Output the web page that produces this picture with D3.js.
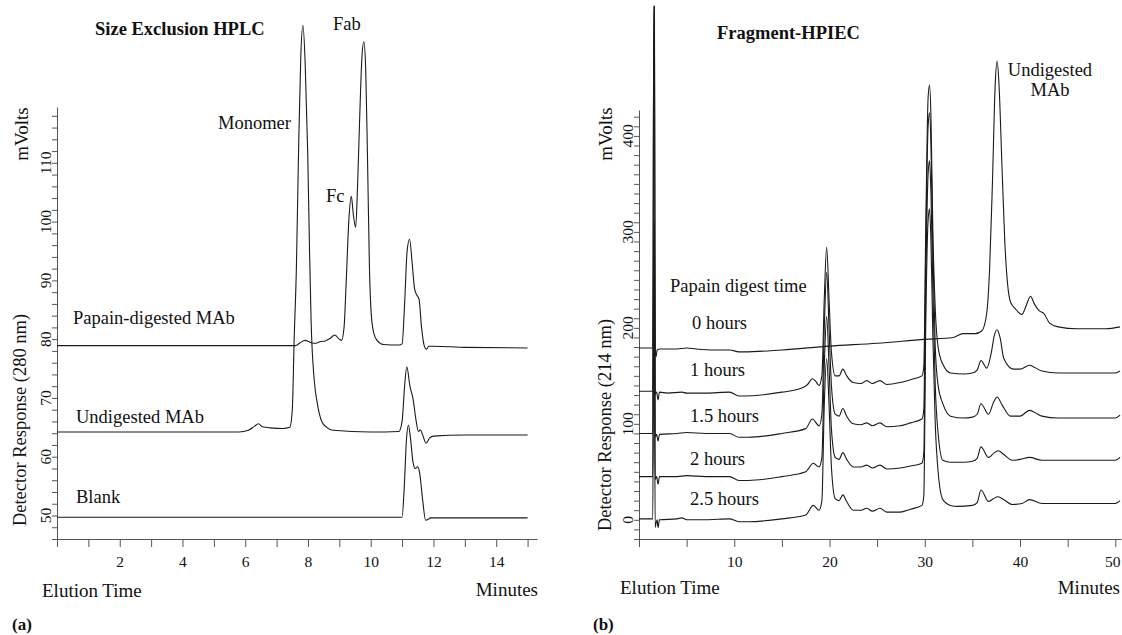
<!DOCTYPE html>
<html>
<head>
<meta charset="utf-8">
<script src="https://cdn.jsdelivr.net/npm/d3@7"></script>
<style>
  body { margin: 0; background: #fff; }
  svg text { font-family: 'Liberation Serif', 'Times New Roman', serif; fill: #111; }
</style>
</head>
<body>
<svg id="chart" width="1122" height="635"></svg>
<script>
/* Panel (a) - size exclusion HPLC, points are [minutes, mVolts] */
const secPapain = [[0,78.9],[6,78.9],[7.6,78.9],[7.75,79.4],[7.9,79.8],[8.1,79.4],[8.25,79.3],[8.4,79.6],[8.55,79.7],[8.7,80.1],[8.85,80.7],[9.0,80.0],[9.07,79.8],[9.15,82],[9.22,90],[9.3,100],[9.38,104.3],[9.45,101],[9.52,99],[9.58,106],[9.65,118],[9.72,128],[9.78,130.6],[9.84,126],[9.9,110],[9.96,92],[10.02,84],[10.1,81],[10.2,79.8],[10.4,79.1],[10.9,79],[11.0,79.2],[11.08,86],[11.16,95],[11.24,97],[11.32,93],[11.4,88.5],[11.47,87.5],[11.54,86.8],[11.62,82],[11.7,79],[11.78,78.3],[11.85,78.8],[12,78.8],[13,78.6],[15,78.5]]
const secUndigested = [[0,64.2],[5.8,64.2],[6.1,64.5],[6.3,65.2],[6.42,65.6],[6.55,65.1],[6.8,64.9],[7.2,64.8],[7.42,65],[7.5,68],[7.56,80],[7.63,92],[7.7,112],[7.77,128],[7.84,133.4],[7.91,127],[7.99,112],[8.05,95],[8.1,83],[8.2,73],[8.3,69],[8.44,66],[8.6,65],[8.8,64.5],[10,64.2],[10.9,64.3],[11.0,66],[11.08,72],[11.15,75.3],[11.25,72],[11.35,69.8],[11.45,66],[11.52,64.3],[11.58,64.6],[11.65,63.8],[11.76,62.3],[11.88,63.2],[12,63.5],[13,63.7],[15,63.7]]
const secBlank = [[0,49.7],[11.0,49.7],[11.07,55],[11.14,63],[11.2,65.4],[11.27,63],[11.35,59],[11.42,58],[11.5,58.3],[11.56,57.2],[11.65,52.9],[11.75,49.2],[11.82,49.3],[11.9,49.6],[15,49.6]]
const secNames = ['Papain-digested MAb', 'Undigested MAb', 'Blank']
const secXTicks = [0,1,2,3,4,5,6,7,8,9,10,11,12,13,14,15]
const secXLabels = [2,4,6,8,10,12,14]
const secYTicks = d3.range(46, 119, 2)
const secYLabels = [50,60,70,80,90,100,110]

/* Panel (b) - fragment HPIEC, one trace per digest time */
const iec0h = [[0,179],[1.45,179],[1.55,535],[1.62,535],[1.7,176],[1.8,170],[1.9,177],[2.2,178],[4,178],[5,179],[6,178],[8,177],[9.5,177],[10.5,175],[11,175],[15,177],[20,181],[25,184],[30,188],[33,190],[34,194],[35.3,194],[36,197],[36.5,215],[36.8,260],[37.1,350],[37.4,455],[37.6,478],[37.8,452],[38.1,370],[38.4,290],[38.7,245],[39,227],[39.5,220],[40.2,214],[40.6,222],[41.1,233],[41.5,225],[42,218],[42.5,215],[43.1,205],[44,201],[46,199],[49,199],[50.5,201]]
const iec1h = [[0,134],[1.45,134],[1.55,535],[1.62,535],[1.7,131],[1.85,133],[2.0,125],[2.15,133],[3,132],[4.5,133],[5,132],[7,132],[9.5,133],[10.5,129],[11,129],[15,133],[17,137],[17.7,141],[18.2,147],[18.5,145],[18.9,140],[19.2,150],[19.45,230],[19.7,284],[19.95,230],[20.2,175],[20.6,150],[21.0,150],[21.4,157],[21.8,150],[22.5,143],[23.3,142],[23.9,145],[24.5,142],[25.3,145],[26,141],[27.4,143],[28.5,146],[29.7,150],[29.9,160],[30.1,300],[30.35,440],[30.5,453],[30.65,420],[30.85,300],[31.1,220],[31.4,180],[31.9,162],[32.7,153],[34.1,152],[35,153],[35.5,156],[35.9,166],[36.5,158],[37.0,175],[37.3,192],[37.6,198],[37.9,190],[38.3,168],[39.3,157],[40,157],[41,161],[41.5,159],[42.3,155],[44,153],[50,153],[50.5,155]]
const iec15h = [[0,90],[1.45,90],[1.55,310],[1.62,310],[1.7,86],[1.85,89],[2.0,82],[2.15,89],[4,90],[5,91],[7,90],[9.5,90],[10.5,86],[11.5,86],[15,90],[17.5,95],[18.2,105],[18.9,98],[19.2,110],[19.45,200],[19.7,258],[19.95,200],[20.2,140],[20.6,110],[21.0,108],[21.4,116],[21.8,108],[22.5,100],[23.3,99],[23.9,101],[24.5,98],[25.3,101],[26,97],[27.4,98],[28.5,101],[29.7,105],[29.9,115],[30.1,280],[30.35,410],[30.5,424],[30.65,390],[30.85,280],[31.1,180],[31.4,140],[31.9,121],[32.7,108],[34.1,106],[35,107],[35.5,110],[35.9,121],[36.7,110],[37.2,122],[37.6,128],[38.1,120],[39,108],[40,108],[41,114],[41.5,112],[42.3,108],[44,106],[50,106],[50.5,109]]
const iec2h = [[0,45],[1.45,45],[1.55,255],[1.62,255],[1.7,42],[1.85,45],[2.0,37],[2.15,45],[4,45],[5,46],[7,45],[9.5,45],[10.5,41],[11.5,41],[15,45],[17.5,50],[18.3,59],[18.9,55],[19.2,65],[19.45,160],[19.7,212],[19.95,160],[20.2,95],[20.6,65],[21.0,63],[21.4,70],[21.8,63],[22.5,55],[23.3,55],[23.9,57],[24.5,54],[25.3,57],[26,53],[27.4,54],[28.5,56],[29.7,59],[29.9,70],[30.1,240],[30.35,360],[30.5,374],[30.65,340],[30.85,240],[31.1,140],[31.4,90],[31.9,62],[32.7,60],[34.1,60],[35,61],[35.5,64],[35.9,76],[36.7,65],[37.2,69],[37.7,72],[38.3,68],[39.2,62],[40,63],[41,65],[42.3,62],[44,62],[50,62],[50.5,65]]
const iec25h = [[0,1],[1.45,1],[1.52,200],[1.6,200],[1.7,-8],[1.8,-3],[1.9,0],[2.0,-8],[2.15,0],[4,1],[4.5,2],[5,0],[7,0],[9.5,1],[10.5,-2],[11.5,-2],[15,1],[17.5,5],[18.3,15],[18.9,10],[19.2,20],[19.45,120],[19.7,168],[19.95,120],[20.2,55],[20.6,22],[21.0,20],[21.4,26],[21.8,19],[22.5,10],[23.3,10],[23.9,12],[24.5,9],[25.3,12],[26,8],[27.4,8],[28.5,11],[29.7,15],[29.9,25],[30.1,200],[30.35,312],[30.5,324],[30.65,290],[30.85,190],[31.1,100],[31.4,50],[31.9,21],[32.7,15],[33.4,14],[35,15],[35.5,18],[35.9,31],[36.7,19],[37.2,22],[37.7,24],[38.3,21],[39.2,16],[40.2,17],[41,21],[42.3,17],[44,17],[50,17],[50.5,20]]
const iecNames = ['0 hours', '1 hours', '1.5 hours', '2 hours', '2.5 hours']
const iecXTicks = [0,5,10,15,20,25,30,35,40,45,50]
const iecXLabels = [10,20,30,40,50]
const iecYTicks = d3.range(-20, 421, 10)
const iecYLabels = [0,100,200,300,400]

const svg = d3.select('#chart')

/** Draws one chromatogram panel: axes, ticks, rotated tick labels and traces */
function drawPanel(p) {
  const x = d3.scaleLinear().domain(p.xDomain).range(p.xRange)
  const y = d3.scaleLinear().domain(p.yDomain).range(p.yRange)
  const g = svg.append('g')

  const xAxis = g.append('g')
    .attr('transform', `translate(0, ${p.yRange[0]})`)
    .call(d3.axisBottom(x)
      .tickValues(p.xTicks)
      .tickSize(8)
      .tickSizeOuter(0)
      .tickPadding(9)
      .tickFormat(d => p.xLabels.includes(d) ? d : ''))
  g.append('g')
    .attr('transform', `translate(${p.xRange[0]}, 0)`)
    .call(d3.axisLeft(y)
      .tickValues(p.yTicks)
      .tickSize(5)
      .tickSizeOuter(0)
      .tickFormat(''))

  // axis styling, plain gray rules and serif numbers
  g.selectAll('.domain, .tick line').attr('stroke', '#555').attr('stroke-width', 1)
  xAxis.selectAll('text').attr('font-size', 15.5).attr('font-family', null)
  // keep the last number inside the page edge
  xAxis.selectAll('text').filter(d => x(d) > 1110).attr('dx', -3)

  // y tick labels read bottom to top
  g.selectAll('text.ylab')
    .data(p.yLabels)
    .join('text')
    .attr('class', 'ylab')
    .attr('font-size', 15.5)
    .attr('text-anchor', 'middle')
    .attr('transform', d => `translate(${p.xRange[0] - 6}, ${y(d)}) rotate(-90)`)
    .text(d => d)

  const line = d3.line()
    .x(d => x(d[0]))
    .y(d => y(d[1]))
    .curve(d3.curveMonotoneX)

  g.selectAll('path.trace')
    .data(p.traces)
    .join('path')
    .attr('class', 'trace')
    .attr('d', line)
    .attr('fill', 'none')
    .attr('stroke', '#1a1a1a')
    .attr('stroke-width', 1.1)
}

function label(txt, x, y, opts = {}) {
  const t = svg.append('text')
    .attr('x', x)
    .attr('y', y)
    .attr('font-size', opts.size || 18.5)
    .attr('text-anchor', opts.anchor || 'start')
    .attr('dominant-baseline', 'central')
    .text(txt)
  if (opts.bold) t.attr('font-weight', 'bold')
  if (opts.rotate) t.attr('transform', `rotate(-90, ${x}, ${y})`)
  return t
}

drawPanel({
  xDomain: [0, 15.3], xRange: [57, 537],
  yDomain: [46, 119.5], yRange: [539, 107],
  xTicks: secXTicks, xLabels: secXLabels,
  yTicks: secYTicks, yLabels: secYLabels,
  traces: [secPapain, secUndigested, secBlank]
})

drawPanel({
  xDomain: [0, 50.6], xRange: [639, 1121],
  yDomain: [-20, 427], yRange: [539, 110],
  xTicks: iecXTicks, xLabels: iecXLabels,
  yTicks: iecYTicks, yLabels: iecYLabels,
  traces: [iec0h, iec1h, iec15h, iec2h, iec25h]
})

/* panel (a) text */
label('Size Exclusion HPLC', 95, 29, { bold: true })
label('mVolts', 21, 134, { rotate: true, anchor: 'middle', size: 19 })
label('Detector Response (280 nm)', 20, 420, { rotate: true, anchor: 'middle' })
label(secNames[0], 73, 318)
label(secNames[1], 76, 417)
label(secNames[2], 76, 497)
label('Monomer', 218, 123)
label('Fab', 333, 24)
label('Fc', 326, 196)
label('Elution Time', 42, 590, { size: 19 })
label('Minutes', 538, 589, { size: 19, anchor: 'end' })
label('(a)', 12, 624, { bold: true, size: 17 })

/* panel (b) text */
label('Fragment-HPIEC', 717, 33, { bold: true })
label('mVolts', 605, 134, { rotate: true, anchor: 'middle', size: 19 })
label('Detector Response (214 nm)', 605, 425, { rotate: true, anchor: 'middle' })
label('Papain digest time', 670, 286)
const iecLabelY = [323, 370, 416, 459, 499]
iecNames.forEach((n, i) => label(n, i === 0 ? 692 : 690, iecLabelY[i]))
label('Undigested', 1050, 70, { anchor: 'middle' })
label('MAb', 1050, 90, { anchor: 'middle' })
label('Elution Time', 620, 587, { size: 19 })
label('Minutes', 1120, 587, { size: 19, anchor: 'end' })
label('(b)', 593, 624, { bold: true, size: 17 })
</script>
</body>
</html>
